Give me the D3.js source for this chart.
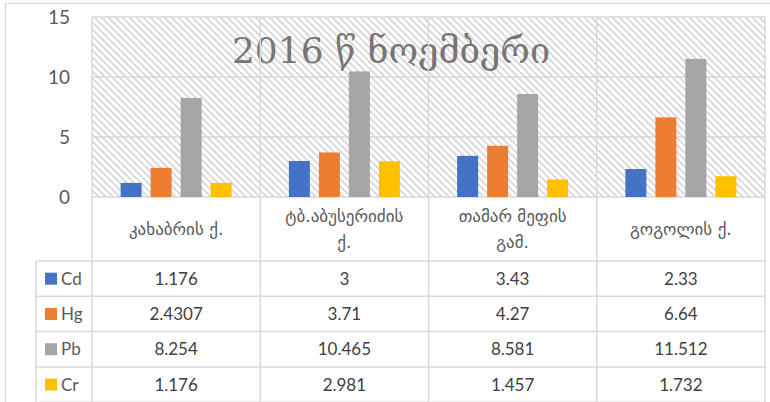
<!DOCTYPE html>
<html>
<head>
<meta charset="utf-8">
<script src="https://cdn.jsdelivr.net/npm/d3@7"></script>
<style>
  html, body { margin: 0; padding: 0; background: #fff; }
  svg { display: block; }
</style>
</head>
<body>
<svg id="chart" width="770" height="402"></svg>
<script>
const title = "2016 წ ნოემბერი";
const categories = ["კახაბრის ქ.", "ტბ.აბუსერიძის ქ.", "თამარ მეფის გამ.", "გოგოლის ქ."];
const seriesNames = ["Cd", "Hg", "Pb", "Cr"];
const seriesColors = ["#4472C4", "#ED7D31", "#A5A5A5", "#FFC000"];
const cdValues = [1.176, 3, 3.43, 2.33];
const hgValues = [2.4307, 3.71, 4.27, 6.64];
const pbValues = [8.254, 10.465, 8.581, 11.512];
const crValues = [1.176, 2.981, 1.457, 1.732];
const cdLabels = ["1.176", "3", "3.43", "2.33"];
const hgLabels = ["2.4307", "3.71", "4.27", "6.64"];
const pbLabels = ["8.254", "10.465", "8.581", "11.512"];
const crLabels = ["1.176", "2.981", "1.457", "1.732"];
const yTicks = [0, 5, 10, 15];

const seriesValues = [cdValues, hgValues, pbValues, crValues];
const seriesLabels = [cdLabels, hgLabels, pbLabels, crLabels];

const svg = d3.select("#chart");
const W = 770, H = 402;
const plot = { left: 92, right: 765, top: 17, bottom: 197 };
const tableLeft = 36;
const headerBottom = 261;
const rowH = 35.3;
const gridColor = "#d9d9d9";
const textFont = "Lato, 'DejaVu Sans', sans-serif";
const geoFont = "'DejaVu Sans', sans-serif";

// hatch pattern
const defs = svg.append("defs");
const pat = defs.append("pattern")
  .attr("id", "hatch").attr("patternUnits", "userSpaceOnUse")
  .attr("width", 7).attr("height", 7);
pat.append("rect").attr("width", 7).attr("height", 7).attr("fill", "#fff");
pat.append("path").attr("d", "M-1,-1 L8,8 M-1,6 L1,8 M6,-1 L8,1")
  .attr("stroke", "#d6d6d6").attr("stroke-width", 1.6);

// outer chart border
svg.append("path")
  .attr("d", `M5.5,${H} L5.5,3.5 L${W},3.5`)
  .attr("fill", "none").attr("stroke", gridColor).attr("stroke-width", 1.2);

const x0 = d3.scaleBand().domain(d3.range(categories.length))
  .range([plot.left, plot.right]).paddingInner(0).paddingOuter(0);
const y = d3.scaleLinear().domain([0, 15]).range([plot.bottom, plot.top]);

// plot background
svg.append("rect")
  .attr("x", plot.left).attr("y", plot.top)
  .attr("width", plot.right - plot.left).attr("height", plot.bottom - plot.top)
  .attr("fill", "url(#hatch)");

// gridlines
svg.append("g").selectAll("line").data(yTicks).join("line")
  .attr("x1", plot.left).attr("x2", plot.right)
  .attr("y1", d => y(d)).attr("y2", d => y(d))
  .attr("stroke", gridColor).attr("stroke-width", 1.5);

// y axis labels
const yAxis = d3.axisLeft(y).tickValues(yTicks).tickSize(0).tickPadding(0);
const ya = svg.append("g").attr("transform", `translate(70,0)`).call(yAxis);
ya.select(".domain").remove();
ya.selectAll("text")
  .attr("font-family", textFont).attr("font-size", 19).attr("fill", "#595959")
  .attr("dy", "0.36em");

// title
svg.append("text")
  .attr("x", 391).attr("y", 63)
  .attr("text-anchor", "middle")
  .attr("font-family", "'DejaVu Serif', serif")
  .attr("font-size", 36)
  .attr("fill", "#767676")
  .text(title);

// bars
const x1 = d3.scaleBand().domain(d3.range(seriesNames.length))
  .range([-60, 60]).paddingInner(0.3).paddingOuter(0.15);
const bars = svg.append("g");
seriesNames.forEach((s, si) => {
  bars.append("g").selectAll("rect").data(seriesValues[si]).join("rect")
    .attr("x", (d, i) => x0(i) + x0.bandwidth() / 2 + x1(si))
    .attr("width", x1.bandwidth())
    .attr("y", d => y(d))
    .attr("height", d => y(0) - y(d))
    .attr("fill", seriesColors[si]);
});

// data table
const tableBottom = headerBottom + rowH * seriesNames.length;
const tbl = svg.append("g");
const vx = [plot.left].concat(d3.range(categories.length).map(i => x0(i) + x0.bandwidth()));
tbl.selectAll("line.v").data(vx).join("line")
  .attr("x1", d => d).attr("x2", d => d)
  .attr("y1", plot.top).attr("y2", tableBottom)
  .attr("stroke", gridColor).attr("stroke-width", 1.5);
tbl.append("line").attr("x1", tableLeft).attr("x2", tableLeft)
  .attr("y1", headerBottom).attr("y2", tableBottom)
  .attr("stroke", gridColor).attr("stroke-width", 1.5);
const hy = d3.range(seriesNames.length + 1).map(i => headerBottom + i * rowH);
tbl.selectAll("line.h").data(hy).join("line")
  .attr("x1", tableLeft).attr("x2", plot.right)
  .attr("y1", d => d).attr("y2", d => d)
  .attr("stroke", gridColor).attr("stroke-width", 1.5);

// category header labels with wrapping
const headSize = 17;
const maxW = x0.bandwidth() - 38;
categories.forEach((c, i) => {
  const cx = x0(i) + x0.bandwidth() / 2;
  const t = svg.append("text")
    .attr("text-anchor", "middle")
    .attr("font-family", geoFont).attr("font-size", headSize)
    .attr("fill", "#595959");
  const words = c.split(" ");
  let lines = [], cur = "";
  const probe = svg.append("text").attr("font-family", geoFont).attr("font-size", headSize);
  words.forEach(w => {
    const test = cur ? cur + " " + w : w;
    probe.text(test);
    if (probe.node().getComputedTextLength() > maxW && cur) { lines.push(cur); cur = w; }
    else cur = test;
  });
  lines.push(cur);
  probe.remove();
  const lh = 26;
  const midY = (plot.bottom + headerBottom) / 2;
  lines.forEach((ln, li) => {
    t.append("tspan").attr("x", cx)
      .attr("y", midY + (li - (lines.length - 1) / 2) * lh)
      .attr("dy", "0.35em").text(ln);
  });
});

// rows: legend + values
seriesNames.forEach((s, si) => {
  const ry = headerBottom + si * rowH;
  const my = ry + rowH / 2;
  svg.append("rect").attr("x", 45).attr("y", my - 6).attr("width", 12).attr("height", 12)
    .attr("fill", seriesColors[si]);
  svg.append("text").attr("x", 61).attr("y", my).attr("dy", "0.36em")
    .attr("font-family", textFont).attr("font-size", 17).attr("fill", "#595959")
    .text(s);
  svg.append("g").selectAll("text").data(seriesLabels[si]).join("text")
    .attr("x", (d, i) => x0(i) + x0.bandwidth() / 2)
    .attr("y", my).attr("dy", "0.36em")
    .attr("text-anchor", "middle")
    .attr("font-family", textFont).attr("font-size", 17).attr("fill", "#404040")
    .text(d => d);
});
</script>
</body>
</html>
